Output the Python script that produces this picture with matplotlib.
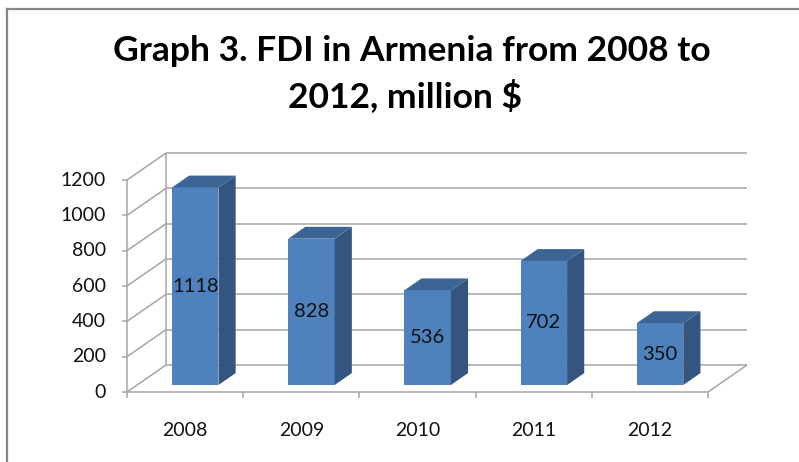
import matplotlib
matplotlib.use("Agg")
import matplotlib.pyplot as plt
from matplotlib.patches import Polygon
from matplotlib.lines import Line2D
import numpy as np

# Data
years = ["2008", "2009", "2010", "2011", "2012"]
fdi = [1118, 828, 536, 702, 350]
y_ticks = [0, 200, 400, 600, 800, 1000, 1200]
title_lines = ["Graph 3. FDI in Armenia from 2008 to", "2012, million $"]

W, H = 799, 462
fig = plt.figure(figsize=(W / 100, H / 100), dpi=100)
ax = fig.add_axes([0, 0, 1, 1])
ax.set_axis_off()

# Layout of the front plane (pixels from the left / top of the figure)
px_left, px_right = 127, 708
px_base, px_top = 392, 180
y_max = y_ticks[-1]
n = len(years)
cat_px = (px_right - px_left) / n
val_px = (px_base - px_top) / y_max
ax.set_xlim(-0.5 - px_left / cat_px, -0.5 + (W - px_left) / cat_px)
ax.set_ylim(-(H - px_base) / val_px, px_base / val_px)

# Oblique depth vector of the 3-D box (one unit of depth)
DX = 39 / cat_px
DY = 27 / val_px


def proj(c, v, d):
    return c + d * DX, v + d * DY


grid_kw = dict(color="#A5A5A5", lw=1.1, solid_capstyle="butt", zorder=1)
x0, x1 = -0.5, n - 0.5

# back wall gridlines and left wall lines
for t in y_ticks:
    a, b = proj(x0, t, 1), proj(x1, t, 1)
    ax.plot([a[0], b[0]], [a[1], b[1]], **grid_kw)
    a, b = proj(x0, t, 0), proj(x0, t, 1)
    ax.plot([a[0], b[0]], [a[1], b[1]], **grid_kw)

# wall edges
for d in (0, 1):
    a, b = proj(x0, 0, d), proj(x0, y_max, d)
    ax.plot([a[0], b[0]], [a[1], b[1]], **grid_kw)

# floor front and right edges
a, b = proj(x0, 0, 0), proj(x1, 0, 0)
ax.plot([a[0], b[0]], [a[1], b[1]], **grid_kw)
a, b = proj(x1, 0, 0), proj(x1, 0, 1)
ax.plot([a[0], b[0]], [a[1], b[1]], **grid_kw)

label_kw = dict(family="Lato", color="#111111")

# value axis ticks and labels
tick_len_x = 5 / cat_px
for t in y_ticks:
    ax.plot([x0 - tick_len_x, x0], [t, t], **grid_kw)
    ax.text(x0 - 21 / cat_px, t, f"{t}", ha="right", va="center",
            fontsize=14, **label_kw)

# category ticks and labels
tick_len_y = 6 / val_px
for i in range(n + 1):
    c = x0 + i
    ax.plot([c, c], [0, -tick_len_y], **grid_kw)
for i, yr in enumerate(years):
    ax.text(i, -38 / val_px, yr, ha="center", va="center",
            fontsize=14, **label_kw)

# 3-D bars
bw = 0.4
f0, f1 = 0.26, 0.70
dd = f1 - f0
front_c, top_c, side_c = "#4F81BD", "#3C6595", "#34557F"
xs = np.arange(n) + f0 * DX
base = f0 * DY
ax.bar(xs, fdi, width=bw, bottom=base, color=front_c, zorder=3, linewidth=0)
for xc, v in zip(xs, fdi):
    xl, xr = xc - bw / 2, xc + bw / 2
    top = base + v
    side = Polygon([(xr, base), (xr + dd * DX, base + dd * DY),
                    (xr + dd * DX, top + dd * DY), (xr, top)],
                   closed=True, facecolor=side_c, edgecolor="none", zorder=3)
    lid = Polygon([(xl, top), (xr, top), (xr + dd * DX, top + dd * DY),
                   (xl + dd * DX, top + dd * DY)],
                  closed=True, facecolor=top_c, edgecolor="none", zorder=3)
    ax.add_patch(side)
    ax.add_patch(lid)
    ax.text(xc, base + v / 2, f"{v}", ha="center", va="center",
            fontsize=14.5, zorder=4, **label_kw)

# title
fig.text(412 / W, 1 - 61 / H, title_lines[0], ha="center", va="baseline",
         fontsize=25.5, family="Lato", weight="bold", color="black")
fig.text(405 / W, 1 - 107 / H, title_lines[1], ha="center", va="baseline",
         fontsize=25.5, family="Lato", weight="bold", color="black")

# chart area border
border_kw = dict(color="#878787", lw=1.6, transform=fig.transFigure)
fig.add_artist(Line2D([6.5 / W, 6.5 / W], [0, 1 - 9 / H], **border_kw))
fig.add_artist(Line2D([6.5 / W, 1], [1 - 9 / H, 1 - 9 / H], **border_kw))

fig.savefig("out.png", dpi=100)
